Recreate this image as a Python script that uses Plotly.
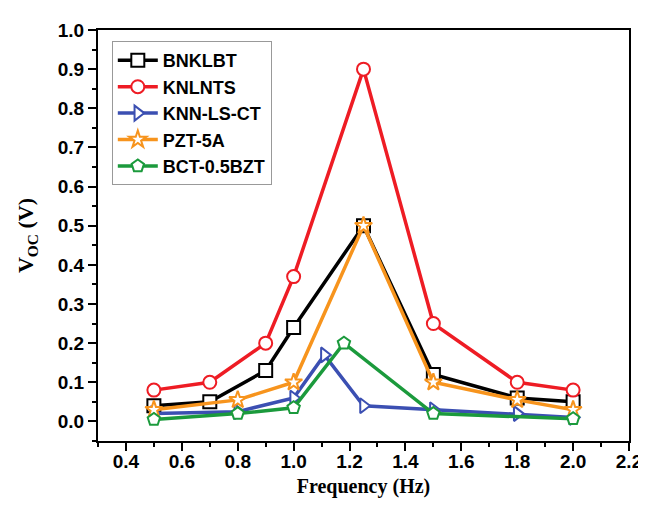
import plotly.graph_objects as go

# Data
x_bnklbt = [0.5, 0.7, 0.9, 1.0, 1.25, 1.5, 1.8, 2.0]
y_bnklbt = [0.04, 0.05, 0.13, 0.24, 0.50, 0.12, 0.06, 0.05]

x_knlnts = [0.5, 0.7, 0.9, 1.0, 1.25, 1.5, 1.8, 2.0]
y_knlnts = [0.08, 0.10, 0.20, 0.37, 0.90, 0.25, 0.10, 0.08]

x_knnlsct = [0.5, 0.8, 1.0, 1.11, 1.25, 1.5, 1.8, 2.0]
y_knnlsct = [0.02, 0.025, 0.06, 0.17, 0.04, 0.03, 0.02, 0.01]

x_pzt = [0.5, 0.8, 1.0, 1.25, 1.5, 1.8, 2.0]
y_pzt = [0.03, 0.055, 0.10, 0.50, 0.10, 0.055, 0.03]

x_bct = [0.5, 0.8, 1.0, 1.18, 1.5, 2.0]
y_bct = [0.005, 0.02, 0.035, 0.20, 0.02, 0.007]

names = ["BNKLBT", "KNLNTS", "KNN-LS-CT", "PZT-5A", "BCT-0.5BZT"]
colors = ["#000000", "#ee1c24", "#3b4fb2", "#f7941d", "#1b9a3c"]
symbols = ["square", "circle", "triangle-right", "star", "pentagon"]
xs = [x_bnklbt, x_knlnts, x_knnlsct, x_pzt, x_bct]
ys = [y_bnklbt, y_knlnts, y_knnlsct, y_pzt, y_bct]

fig = go.Figure()
for name, c, s, x, y in zip(names, colors, symbols, xs, ys):
    fig.add_trace(go.Scatter(
        x=x, y=y, name=name, mode="lines+markers",
        line=dict(color=c, width=3.5),
        marker=dict(symbol=s, size=13, color="white",
                    line=dict(color=c, width=2)),
    ))

axis_common = dict(
    showline=True, linecolor="black", linewidth=2, mirror=True,
    ticks="outside", ticklen=8, tickwidth=2, tickcolor="black",
    showgrid=False, zeroline=False,
    tickfont=dict(family="Arial, Liberation Sans", size=19, color="black", weight="bold"),
)

fig.update_layout(
    width=646, height=507,
    margin=dict(l=90, r=16, t=22, b=74),
    paper_bgcolor="white", plot_bgcolor="white",
    xaxis=dict(
        range=[0.3, 2.2], tick0=0.4, dtick=0.2, tickformat=".1f",
        ticklabelstandoff=-6,
        minor=dict(ticks="outside", ticklen=4, tickwidth=2, tickcolor="black", dtick=0.1, tick0=0.3),
        title=dict(text="Frequency (Hz)", standoff=8,
                   font=dict(family="Times New Roman, Liberation Serif", size=20, color="black", weight="bold")),
        **axis_common,
    ),
    yaxis=dict(
        range=[-0.05, 1.0], tick0=0, dtick=0.1, tickformat=".1f",
        minor=dict(ticks="outside", ticklen=4, tickwidth=2, tickcolor="black", dtick=0.05, tick0=0),
        title=dict(text="V<sub>OC</sub> (V)", standoff=18,
                   font=dict(family="Times New Roman, Liberation Serif", size=22, color="black", weight="bold")),
        **axis_common,
    ),
    legend=dict(
        x=0.026, y=0.973, xanchor="left", yanchor="top",
        bgcolor="white", bordercolor="#999999", borderwidth=1,
        font=dict(family="Arial, Liberation Sans", size=18, color="black", weight="bold"),
        tracegroupgap=0, itemwidth=40,
    ),
    showlegend=True,
)

fig.write_html("out.html")
